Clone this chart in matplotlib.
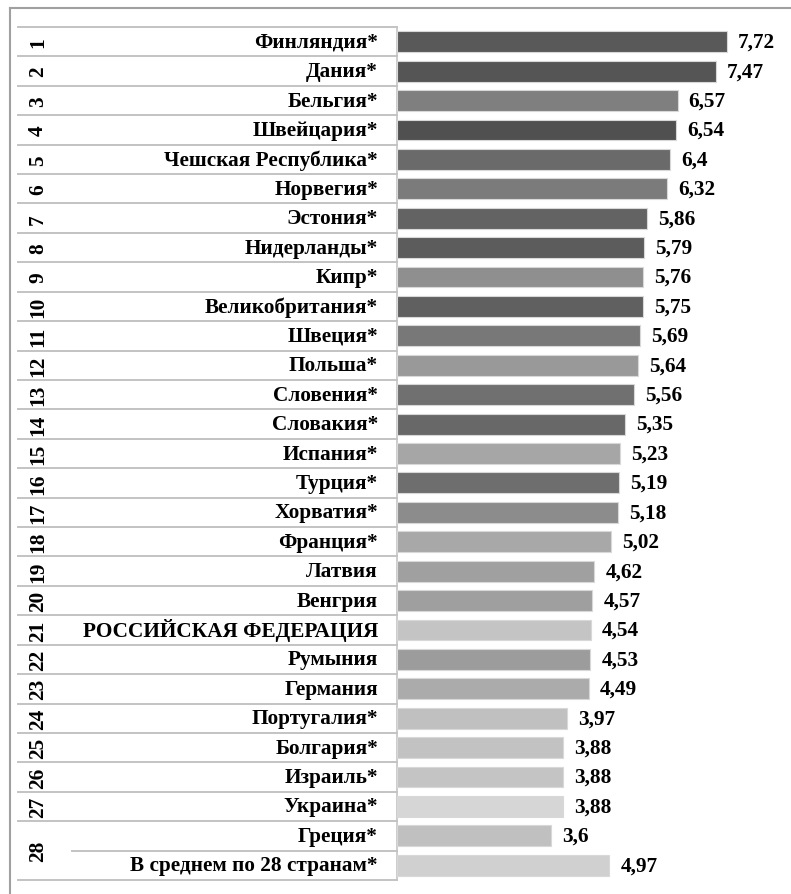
import matplotlib.pyplot as plt
import matplotlib.transforms as mtransforms

# --- data ---
ranks = [str(i) for i in range(1, 29)]
countries = ["Финляндия*", "Дания*", "Бельгия*", "Швейцария*", "Чешская Республика*",
             "Норвегия*", "Эстония*", "Нидерланды*", "Кипр*", "Великобритания*",
             "Швеция*", "Польша*", "Словения*", "Словакия*", "Испания*",
             "Турция*", "Хорватия*", "Франция*", "Латвия", "Венгрия",
             "РОССИЙСКАЯ ФЕДЕРАЦИЯ", "Румыния", "Германия", "Португалия*", "Болгария*",
             "Израиль*", "Украина*", "Греция*", "В среднем по 28 странам*"]
values = [7.72, 7.47, 6.57, 6.54, 6.4, 6.32, 5.86, 5.79, 5.76, 5.75,
          5.69, 5.64, 5.56, 5.35, 5.23, 5.19, 5.18, 5.02, 4.62, 4.57,
          4.54, 4.53, 4.49, 3.97, 3.88, 3.88, 3.88, 3.6, 4.97]
bar_colors = ["#595959", "#555555", "#7f7f7f", "#505050", "#6a6a6a",
              "#7b7b7b", "#636363", "#5c5c5c", "#8f8f8f", "#606060",
              "#787878", "#999999", "#707070", "#686868", "#a6a6a6",
              "#6e6e6e", "#8c8c8c", "#a8a8a8", "#a0a0a0", "#9f9f9f",
              "#c4c4c4", "#9c9c9c", "#ababab", "#c0c0c0", "#c2c2c2",
              "#c4c4c4", "#d6d6d6", "#c0c0c0", "#d0d0d0"]

W, H = 791, 895
n = len(values)
top, bottom = 28, 881          # table rows, pixels from top
bar_x0, px_per_unit = 397, 42.7
font = dict(family="Liberation Serif", weight="bold", size=15.3)

fig = plt.figure(figsize=(W / 100, H / 100), dpi=100)

# background axes in pixel units for frame and table lines
tab = fig.add_axes([0, 0, 1, 1])
tab.set_xlim(0, W)
tab.set_ylim(H, 0)
tab.axis("off")

# bar axes
ax = fig.add_axes([bar_x0 / W, 1 - bottom / H, (W - bar_x0) / W, (bottom - top) / H])
ax.set_xlim(0, (W - bar_x0) / px_per_unit)
ax.set_ylim(n - 0.5, -0.5)
ax.axis("off")

rows = list(range(n))
ax.barh(rows, values, height=0.71, color=bar_colors, edgecolor="#d8d8d8", linewidth=0.8)
for r, v in zip(rows, values):
    ax.annotate(f"{v:g}".replace(".", ","), (v, r), xytext=(8, 0), textcoords="offset points",
                ha="left", va="center", **font)

# table: x in pixels, y in row units
mix = mtransforms.blended_transform_factory(tab.transData, ax.transData)
line_col = "#c3c3c3"
for k in range(n + 1):
    y = k - 0.5
    x_start = 72 if k == n - 1 else 18
    tab.plot([x_start, bar_x0], [y, y], color=line_col, lw=1.4, transform=mix, clip_on=False)
tab.plot([bar_x0, bar_x0], [-0.5, n - 0.5], color=line_col, lw=1.2, transform=mix, clip_on=False)

for r, name in enumerate(countries):
    tab.text(378, r, name, ha="right", va="center", transform=mix, **font)
for r, rk in enumerate(ranks):
    y = r if r < n - 2 else (n - 2 + n - 1) / 2
    tab.text(38, y, rk, ha="center", va="center", rotation=90, transform=mix, **font)

# outer frame (top and left edges visible)
tab.plot([10, W], [9, 9], color="#a0a0a0", lw=1.5)
tab.plot([10, 10], [9, H], color="#a0a0a0", lw=1.5)

fig.savefig("out.png", dpi=100)
